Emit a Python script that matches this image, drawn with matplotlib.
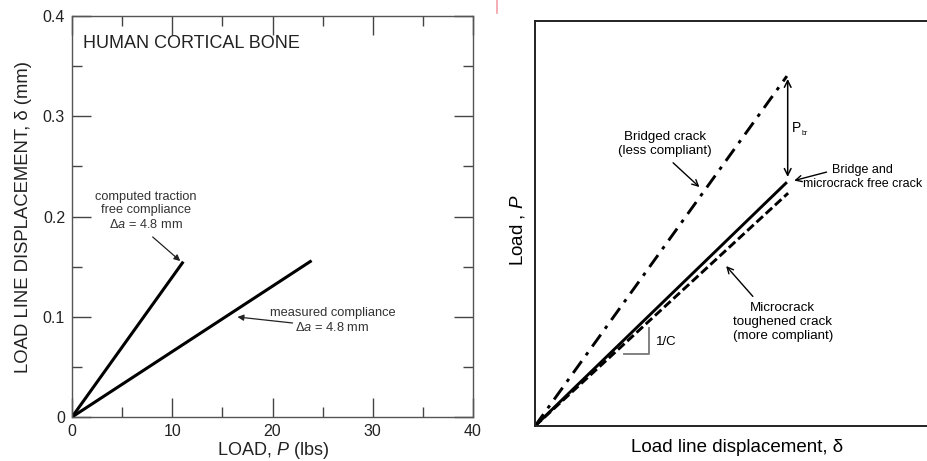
import matplotlib
matplotlib.use("Agg")
import matplotlib.pyplot as plt
from matplotlib.lines import Line2D

plt.rcParams['font.family'] = ['Liberation Sans', 'DejaVu Sans']
plt.rcParams['mathtext.fontset'] = 'custom'
plt.rcParams['mathtext.rm'] = 'Liberation Sans'
plt.rcParams['mathtext.it'] = 'Liberation Sans:italic'

# ====================== DATA ======================
# left panel: load (lbs) vs load line displacement (mm)
computed_load = [0, 11.1]
computed_disp = [0, 0.155]
measured_load = [0, 23.9]
measured_disp = [0, 0.156]
x_ticks = [0, 10, 20, 30, 40]
y_ticks = [0, 0.1, 0.2, 0.3, 0.4]
y_tick_labels = ['0', '0.1', '0.2', '0.3', '0.4']

# right panel: schematic, arbitrary units
bridged_disp = [0, 6.22]
bridged_load = [0, 8.64]
free_disp = [0, 6.22]
free_load = [0, 6.02]
micro_disp = [0, 6.25]
micro_load = [0, 5.75]

fig = plt.figure(figsize=(9.28, 4.61), dpi=100)

# ====================== LEFT PANEL ======================
ax1 = fig.add_axes([0.0776, 0.0954, 0.4321, 0.8698])
ax1.plot(computed_load, computed_disp, color='black', lw=2.2, solid_capstyle='butt')
ax1.plot(measured_load, measured_disp, color='black', lw=2.2, solid_capstyle='butt')
ax1.set_xlim(0, 40)
ax1.set_ylim(0, 0.4)
ax1.set_xticks(x_ticks)
ax1.set_yticks(y_ticks)
ax1.set_yticklabels(y_tick_labels)
ax1.set_xticks([5, 15, 25, 35], minor=True)
ax1.set_yticks([0.05, 0.15, 0.25, 0.35], minor=True)
ax1.tick_params(which='both', direction='in', top=True, right=True,
                color='#444444', width=1, labelsize=11.5, pad=5, labelcolor='#222222')
ax1.tick_params(which='major', length=14)
ax1.tick_params(which='minor', length=7)
for s in ax1.spines.values():
    s.set_color('#555555')
    s.set_linewidth(1)
ax1.set_xlabel('LOAD, $\\it{P}$ (lbs)', fontsize=13, labelpad=1, color='#222222')
ax1.set_ylabel('LOAD LINE DISPLACEMENT, δ (mm)', fontsize=13.3, color='#222222')
ax1.yaxis.set_label_coords(-0.1, 0.5)

ax1.text(1.1, 0.373, 'HUMAN CORTICAL BONE', fontsize=13, va='center', ha='left', color='#222222')

ax1.text(7.4, 0.2055, 'computed traction\nfree compliance\nΔ$\\it{a}$ = 4.8 mm',
         fontsize=9.2, ha='center', va='center', color='#333333', linespacing=1.2)
ax1.annotate('', xy=(10.8, 0.1556), xytext=(8.05, 0.1796),
             arrowprops=dict(arrowstyle='-|>', color='#222222', lw=0.9,
                             mutation_scale=9, shrinkA=0, shrinkB=0))
ax1.text(26.0, 0.0965, 'measured compliance\nΔ$\\it{a}$ = 4.8 mm',
         fontsize=9.3, ha='center', va='center', color='#333333', linespacing=1.2)
ax1.annotate('', xy=(16.5, 0.0998), xytext=(22.0, 0.0938),
             arrowprops=dict(arrowstyle='-|>', color='#222222', lw=0.9,
                             mutation_scale=9, shrinkA=0, shrinkB=0))

# ====================== RIGHT PANEL ======================
ax2 = fig.add_axes([0.5765, 0.0759, 0.4364, 0.8785])
ax2.plot(bridged_disp, bridged_load, color='black', lw=2.1,
         dashes=(5, 2.5, 1.2, 2.5), dash_capstyle='butt')
ax2.plot(free_disp, free_load, color='black', lw=2.1, solid_capstyle='butt')
ax2.plot(micro_disp, micro_load, color='black', lw=2.1, dashes=(3, 1.3), dash_capstyle='butt')
ax2.set_xlim(0, 10)
ax2.set_ylim(0, 10)
ax2.set_xticks([])
ax2.set_yticks([])
for s in ax2.spines.values():
    s.set_color('#222222')
    s.set_linewidth(1.4)
ax2.set_xlabel('Load line displacement, δ', fontsize=13.5, labelpad=9)
ax2.set_ylabel('Load , $\\it{P}$', fontsize=13.5, va='center')
ax2.yaxis.set_label_coords(-0.044, 0.484)

# P_br double arrow
ax2.annotate('', xy=(6.24, 8.57), xytext=(6.24, 6.15),
             arrowprops=dict(arrowstyle='<->', color='black', lw=1.1,
                             mutation_scale=12, shrinkA=0, shrinkB=0))
ax2.text(6.35, 7.35, 'P', fontsize=10, ha='left', va='center')
ax2.text(6.58, 7.22, 'br', fontsize=5, ha='left', va='center')

# slope triangle
ax2.plot([2.81, 2.81, 2.2], [2.42, 1.78, 1.78], color='#777777', lw=1.3)
ax2.text(2.98, 2.08, '1/C', fontsize=9.5, ha='left', va='center')

ax2.text(3.21, 6.96, 'Bridged crack\n(less compliant)', fontsize=9.6,
         ha='center', va='center', linespacing=1.15)
ax2.annotate('', xy=(4.06, 5.9), xytext=(3.41, 6.5),
             arrowprops=dict(arrowstyle='->', color='black', lw=1.0,
                             mutation_scale=11, shrinkA=0, shrinkB=0))
ax2.text(8.08, 6.15, 'Bridge and\nmicrocrack free crack', fontsize=9,
         ha='center', va='center', linespacing=1.15)
ax2.annotate('', xy=(6.4, 6.06), xytext=(7.2, 6.27),
             arrowprops=dict(arrowstyle='->', color='black', lw=1.0,
                             mutation_scale=11, shrinkA=0, shrinkB=0))
ax2.text(6.12, 2.57, 'Microcrack\ntoughened crack\n(more compliant)', fontsize=9.6,
         ha='center', va='center', linespacing=1.2)
ax2.annotate('', xy=(4.72, 3.95), xytext=(5.38, 3.2),
             arrowprops=dict(arrowstyle='->', color='black', lw=1.0,
                             mutation_scale=11, shrinkA=0, shrinkB=0))

# small pink mark at the top between the panels
fig.add_artist(Line2D([497 / 928, 497 / 928], [1.0, 1 - 13 / 461],
                      color='#f2a0a8', lw=1.2))

fig.savefig('out.png', dpi=100)
